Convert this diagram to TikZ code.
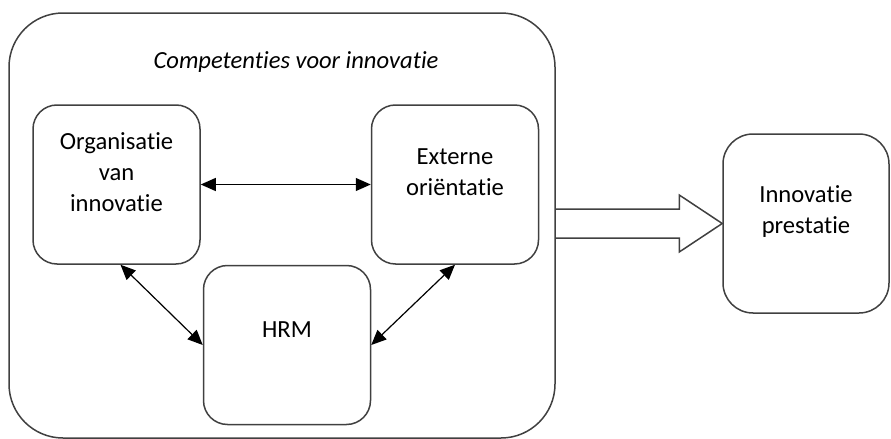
\documentclass[tikz,border=0pt]{standalone}
\usepackage{fontspec}
\setmainfont{Carlito}[Ligatures=NoCommon]
\usetikzlibrary{positioning,arrows.meta,calc}
\definecolor{BoxGrey}{RGB}{64,64,64}

\begin{document}
\begin{tikzpicture}[
x=0.5pt,y=-0.5pt,
node distance=85pt,
box/.style={
  rectangle,
  rounded corners=12pt,
  draw=BoxGrey,
  line width=0.75pt,
  minimum width=83.5pt,
  minimum height=79.5pt
},
txt/.style={align=center,font=\fontsize{12.3}{15.5}\selectfont},
arrow/.style={{Triangle[length=7.5pt,width=6.5pt]}-{Triangle[length=7.5pt,width=6.5pt]},line width=0.6pt},
bigarrow/.style={draw=BoxGrey,line width=0.75pt}
]
\useasboundingbox (0,0) rectangle (891,439);
\node[box,rounded corners=27pt,minimum width=273pt,minimum height=212.5pt] (outer) at (282,225.5) {};
\node[txt,font=\fontsize{12.3}{15.5}\selectfont\itshape] (title) at (296,62) {Competenties voor innovatie};
\node[box,label={[txt,yshift=6pt]center:Organisatie\\van\\innovatie}] (org) at (116.5,184.5) {};
\node[box,right=of org,label={[txt,yshift=6pt]center:Externe\\oriëntatie}] (ext) {};
\node[box,below right=0pt and 1pt of org,label={[txt,yshift=7.5pt]center:HRM}] (hrm) {};
\node[box,rounded corners=15pt,minimum width=83pt,minimum height=89.5pt,
  label={[txt,yshift=6pt]center:Innovatie\\prestatie}] (res) at (806,223.5) {};
\draw[arrow] (org.east)--(ext.west);
\draw[arrow] ([xshift=2pt]org.south)--(hrm.west);
\draw[arrow] (hrm.east)--(ext.south);
\draw[bigarrow] ($(outer.east |- res.west)+(0,-14.5)$) -- ($(res.west)+(-43,-14.5)$)
  -- ++(0,-14) -- (res.west) -- ($(res.west)+(-43,28.5)$) -- ++(0,-14)
  -- ($(outer.east |- res.west)+(0,14.5)$);
\end{tikzpicture}
\end{document}
